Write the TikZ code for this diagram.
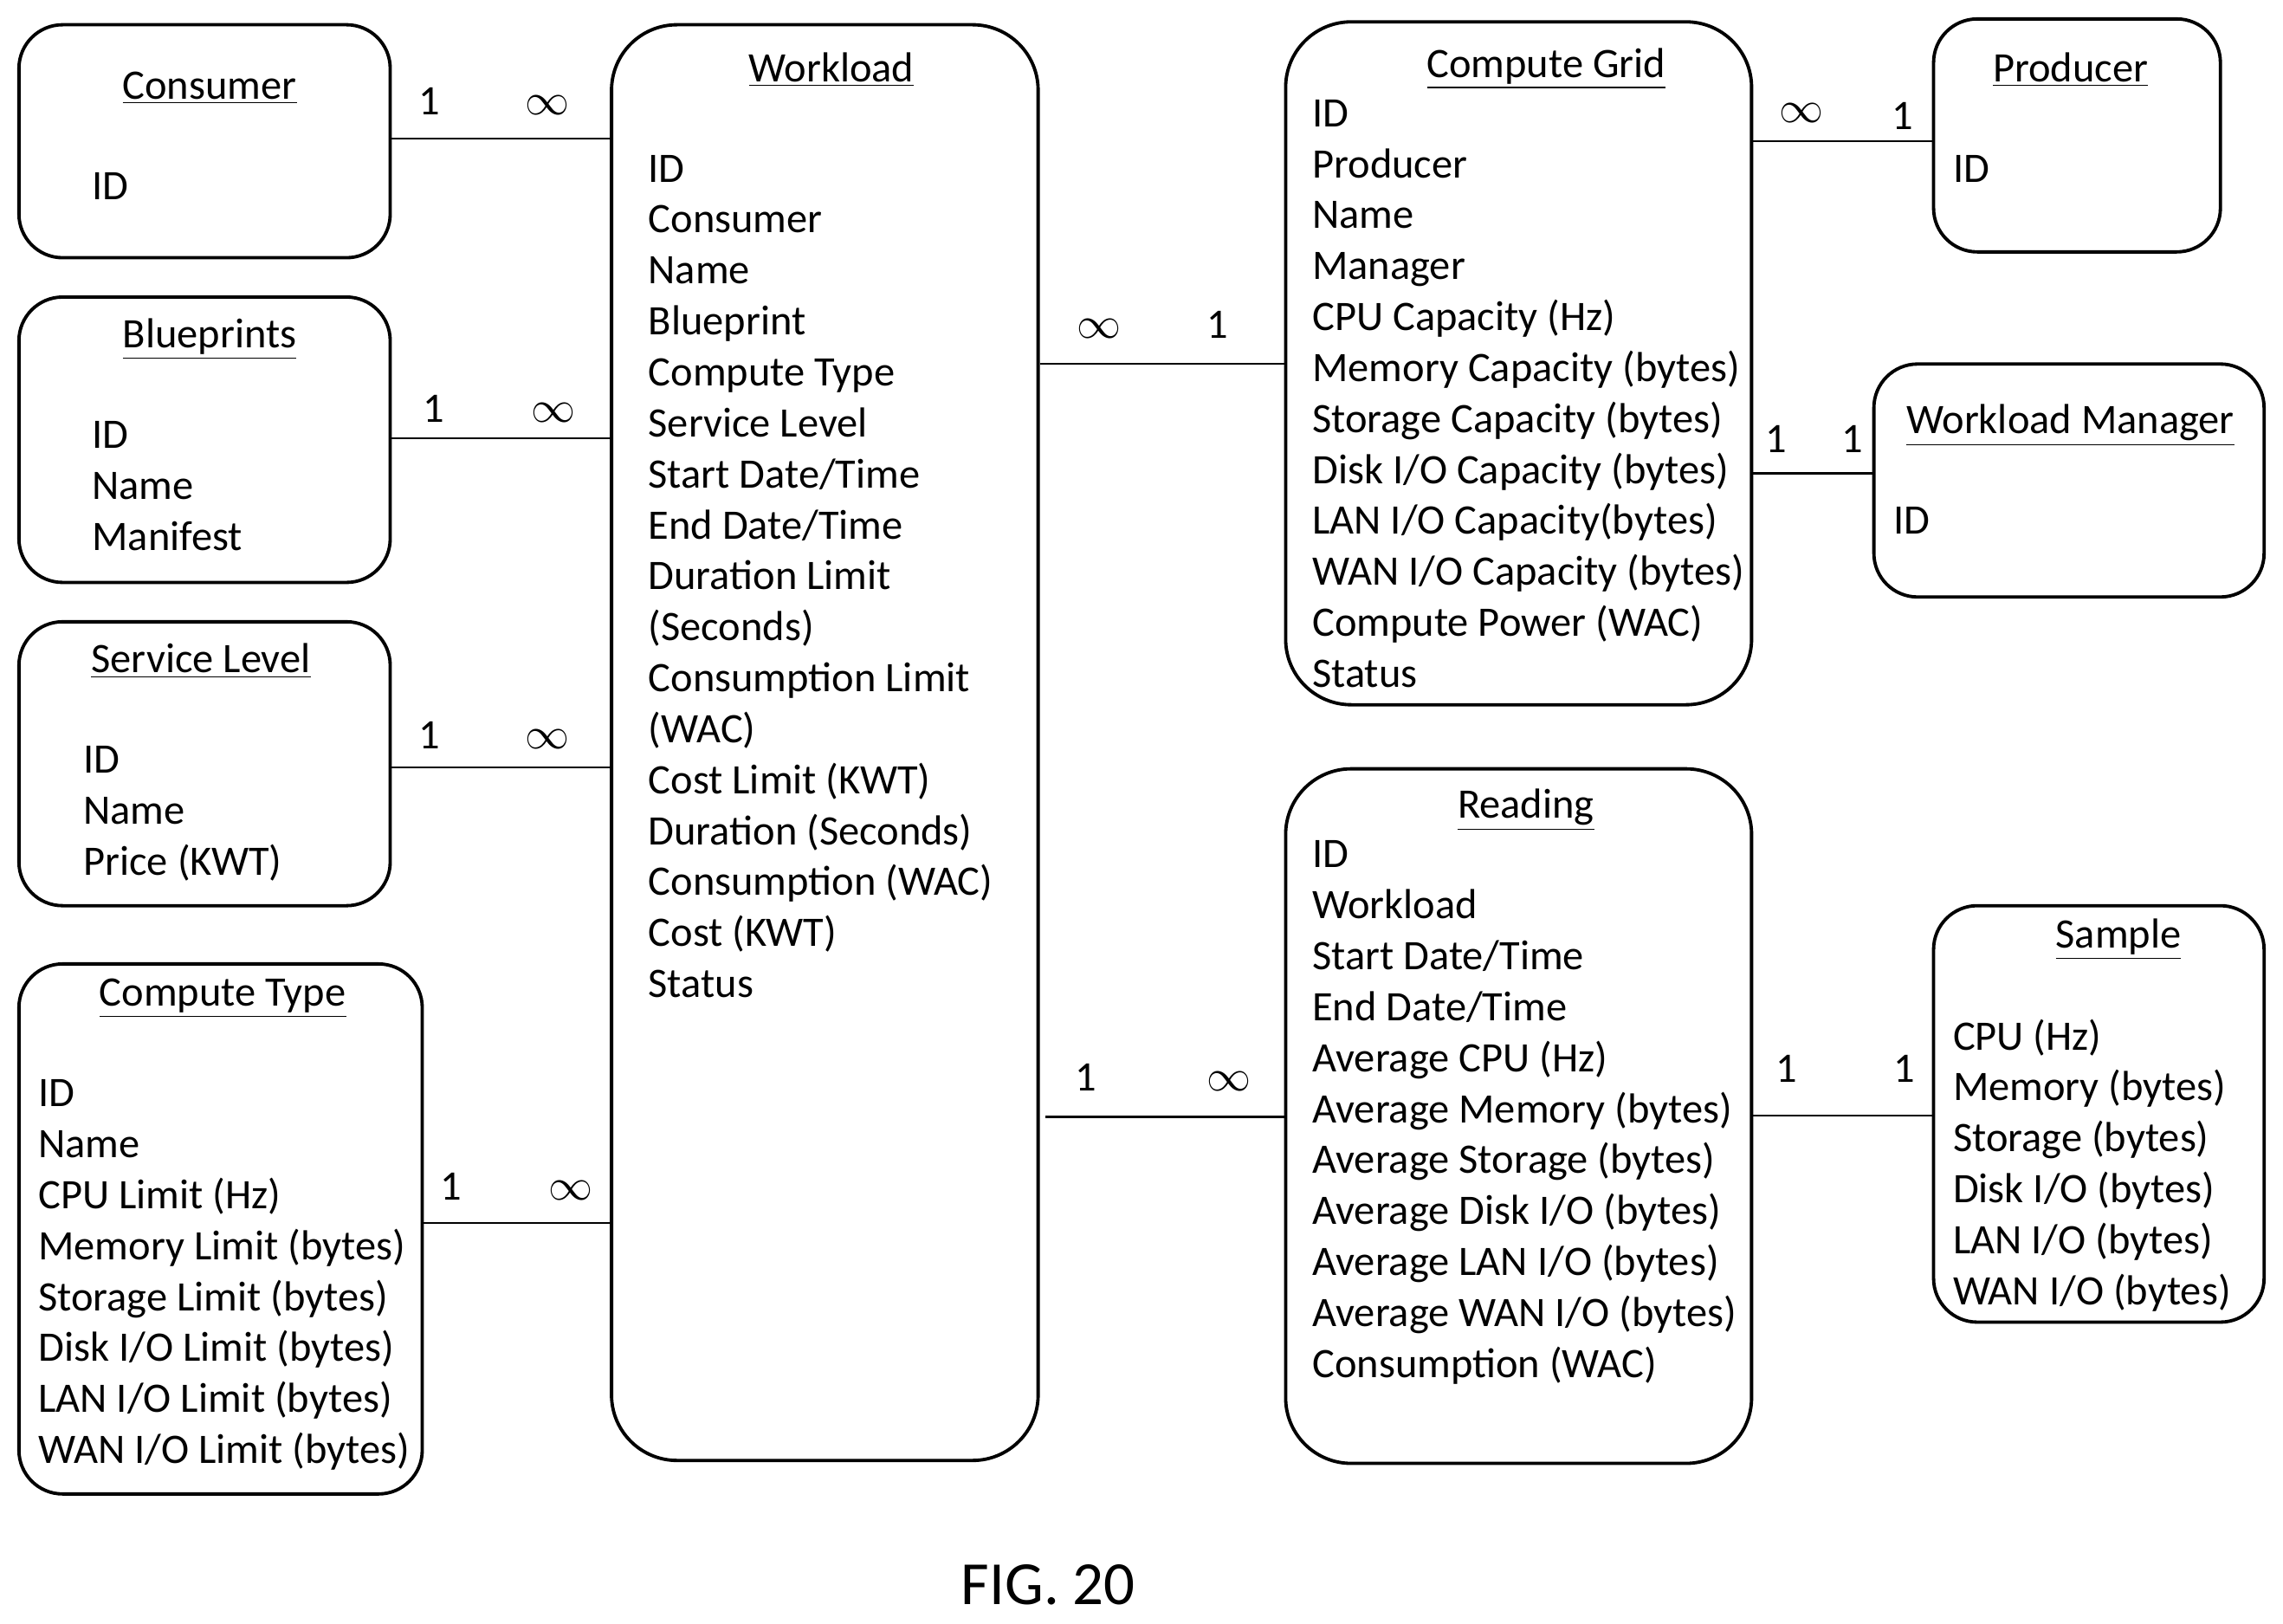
\documentclass[tikz,border=0pt]{standalone}
\usepackage{fontspec}
\setmainfont{Carlito}
\begin{document}
\begin{tikzpicture}[x=0.02cm,y=-0.02cm,
  box/.style={draw,line width=1.3pt,rounded corners=0.6cm,inner sep=0},
  wbox/.style={box,rounded corners=0.9cm},
  txt/.style={anchor=base west,inner sep=0,font=\fontsize{16.4}{19.9}\selectfont},
  ttl/.style={anchor=base,inner sep=0,font=\fontsize{16.4}{19.9}\selectfont},
  lab/.style={anchor=base,inner sep=0,font=\fontsize{16.4}{19.9}\selectfont},
  ln/.style={line width=0.8pt}]
\useasboundingbox (0,0) rectangle (1568,1115);
\newcommand{\ebox}[6]{\node[#6,minimum width={(#3-#2)*0.02cm},minimum height={(#5-#4)*0.02cm}] (#1) at ({(#2+#3)/2},{(#4+#5)/2}) {};}
\newcommand{\fields}[4]{\foreach \t [count=\i] in {#4}{\node[txt] (#1-\i) at (#2,{#3+9+(\i-1)*35}) {\t};}}
\ebox{consumer}{13}{268}{17}{177}{box}
\ebox{blue}{13}{268}{204}{400}{box}
\ebox{serv}{13}{268}{427}{622}{box}
\ebox{ctype}{13}{290}{662}{1026}{box}
\ebox{work}{420}{713}{17}{1003}{wbox}
\ebox{grid}{883}{1203}{15}{484}{wbox}
\ebox{prod}{1328}{1525}{13}{173}{box}
\ebox{wm}{1287}{1555}{250}{410}{box}
\ebox{read}{883}{1203}{528}{1005}{wbox}
\ebox{samp}{1328}{1555}{622}{908}{box}
\node[ttl] (t1) at (144,68) {\underline{Consumer}};
\node[ttl] (t2) at (144,239) {\underline{Blueprints}};
\node[ttl] (t3) at (138,462) {\underline{Service Level}};
\node[ttl] (t4) at (153,691) {\underline{Compute Type}};
\node[ttl] (t5) at (571,56) {\underline{Workload}};
\node[ttl] (t6) at (1062,53) {\underline{Compute Grid}};
\node[ttl] (t7) at (1422,56) {\underline{Producer}};
\node[ttl] (t8) at (1422,298) {\underline{Workload Manager}};
\node[ttl] (t9) at (1048,562) {\underline{Reading}};
\node[ttl] (t10) at (1455,651) {\underline{Sample}};
\fields{fc}{63}{128}{ID}
\fields{fb}{63}{299}{ID,Name,Manifest}
\fields{fs}{57}{522}{ID,Name,Price (KWT)}
\fields{ft}{26}{751}{ID,Name,CPU Limit (Hz),Memory Limit (bytes),Storage Limit (bytes),Disk I/O Limit (bytes),LAN I/O Limit (bytes),WAN I/O Limit (bytes)}
\fields{fw}{445}{116}{ID,Consumer,Name,Blueprint,Compute Type,Service Level,Start Date/Time,End Date/Time,Duration Limit,(Seconds),Consumption Limit,(WAC),Cost Limit (KWT),Duration (Seconds),Consumption (WAC),Cost (KWT),Status}
\fields{fg}{901}{78}{ID,Producer,Name,Manager,CPU Capacity (Hz),Memory Capacity (bytes),Storage Capacity (bytes),Disk I/O Capacity (bytes),LAN I/O Capacity(bytes),WAN I/O Capacity (bytes),Compute Power (WAC),Status}
\fields{fp}{1341}{116}{ID}
\fields{fm}{1300}{358}{ID}
\fields{fr}{901}{587}{ID,Workload,Start Date/Time,End Date/Time,Average CPU (Hz),Average Memory (bytes),Average Storage (bytes),Average Disk I/O (bytes),Average LAN I/O (bytes),Average WAN I/O (bytes),Consumption (WAC)}
\fields{fx}{1341}{712}{CPU (Hz),Memory (bytes),Storage (bytes),Disk I/O (bytes),LAN I/O (bytes),WAN I/O (bytes)}
% connectors
\draw[ln] (consumer.east |- 0,95) -- (work.west |- 0,95);
\draw[ln] (blue.east |- 0,301) -- (work.west |- 0,301);
\draw[ln] (serv.east |- 0,527) -- (work.west |- 0,527);
\draw[ln] (ctype.east |- 0,840) -- (work.west |- 0,840);
\draw[ln] (work.east |- 0,250) -- (grid.west |- 0,250);
\coordinate (wr) at (718,767);
\draw[ln] (wr) -- (read.west |- wr);
\draw[ln] (grid.east |- 0,97) -- (prod.west |- 0,97);
\draw[ln] (grid.east |- 0,325) -- (wm.west |- 0,325);
\draw[ln] (read.east |- 0,766) -- (samp.west |- 0,766);
% labels
\node[lab] (l1) at (295,79) {1}; \node[lab] (l2) at (376,79) {$\infty$};
\node[lab] (l3) at (298,290) {1}; \node[lab] (l4) at (380,290) {$\infty$};
\node[lab] (l5) at (295,514) {1}; \node[lab] (l6) at (376,514) {$\infty$};
\node[lab] (l7) at (310,824) {1}; \node[lab] (l8) at (392,824) {$\infty$};
\node[lab] (l9) at (755,232) {$\infty$}; \node[lab] (l10) at (836,232) {1};
\node[lab] (l11) at (746,749) {1}; \node[lab] (l12) at (844,749) {$\infty$};
\node[lab] (l13) at (1237,84) {$\infty$}; \node[lab] (l14) at (1307,89) {1};
\node[lab] (l15) at (1220,311) {1}; \node[lab] (l16) at (1272,311) {1};
\node[lab] (l17) at (1227,743) {1}; \node[lab] (l18) at (1308,743) {1};
\node[anchor=base,inner sep=0,font=\fontsize{24}{28}\selectfont] (fig) at (720,1102) {FIG. 20};
\end{tikzpicture}
\end{document}
